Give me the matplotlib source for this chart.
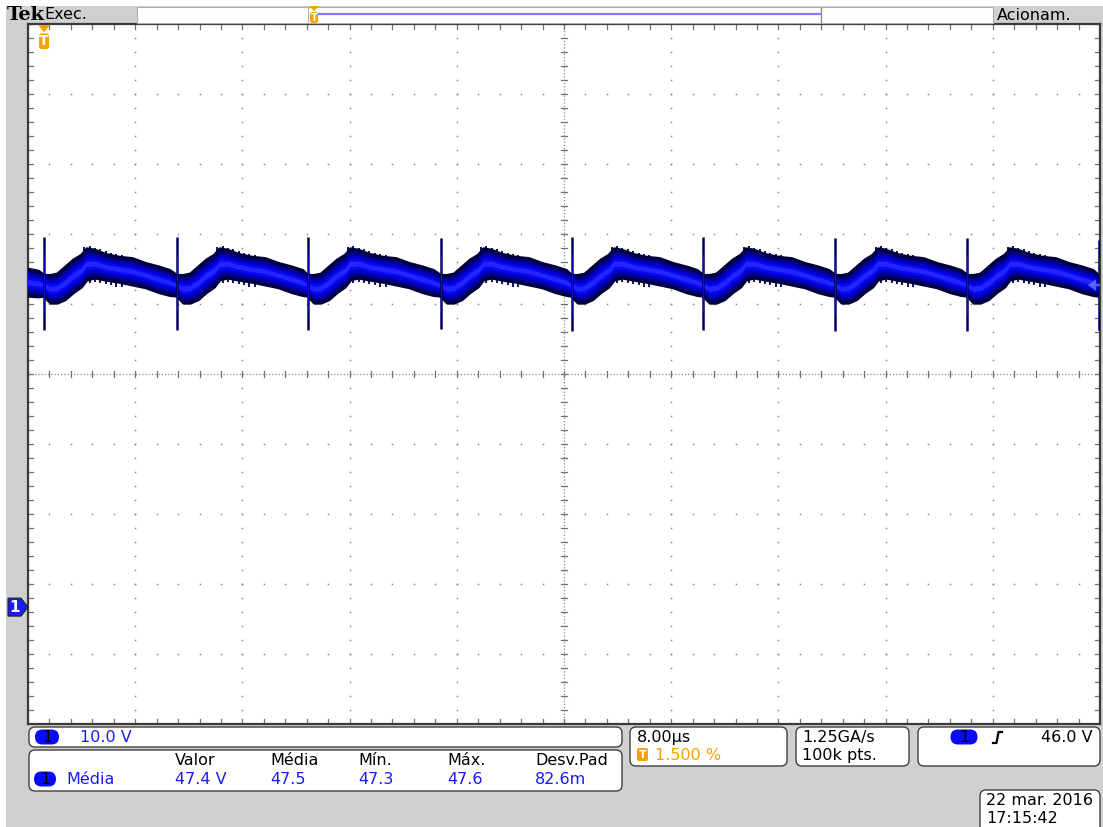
import numpy as np
import matplotlib
matplotlib.use("Agg")
import matplotlib.pyplot as plt
from matplotlib.patches import FancyBboxPatch, Polygon, Rectangle

# ---------------- data ----------------
time_per_div_us = 8.0
volts_per_div = 10.0
trigger_pos_pct = 1.5
trigger_level_v = 46.0
ground_offset_div = -3.33

# switching events (spike instants, us relative to trigger) and spike extremes (V)
spike_t = [0.0, 9.92, 19.68, 29.6, 39.36, 49.2, 59.05, 68.9, 78.7]
spike_hi = [52.9, 52.9, 52.9, 52.8, 52.9, 52.9, 52.8, 52.8, 52.4]
spike_lo = [39.6, 39.6, 39.6, 39.7, 39.4, 39.6, 39.4, 39.4, 39.6]

# band envelope over one switching period
# (time after the spike in us, upper edge V, lower edge V)
period_off = [0.0, 0.5, 1.0, 1.6, 2.2, 2.8, 3.2, 3.8, 4.6, 5.6, 6.6, 7.6, 8.6, 9.4]
period_hi = [47.4, 47.4, 47.6, 48.6, 49.6, 50.3, 51.2, 51.0, 50.4, 50.0, 49.8, 49.1, 48.6, 48.1]
period_lo = [44.4, 43.4, 43.4, 43.9, 44.9, 45.7, 46.7, 47.0, 46.7, 46.4, 46.0, 45.6, 44.9, 44.5]
# trace before the first spike (left of trigger)
lead_t = [-1.2, -0.4]
lead_hi = [48.3, 48.0]
lead_lo = [44.4, 44.3]
# ringing teeth after each turn-on (offset us, lowest V, highest V)
ring_off = [3.0, 3.4, 3.8, 4.2, 4.6, 5.0, 5.4, 5.8]
ring_lo = [46.1, 46.3, 46.4, 46.3, 46.1, 46.0, 45.8, 45.8]
ring_hi = [51.4, 51.6, 51.3, 51.1, 50.9, 50.6, 50.4, 50.3]

scale_label = "10.0 V"
meas_name = "Média"
meas_headers = ["Valor", "Média", "Mín.", "Máx.", "Desv.Pad"]
meas_values = ["47.4 V", "47.5", "47.3", "47.6", "82.6m"]
horiz_label = "8.00µs"
trig_pos_label = "1.500 %"
rate_label = ["1.25GA/s", "100k pts."]
trig_label = "46.0 V"
date_label = ["22 mar. 2016", "17:15:42"]

# ---------------- figure ----------------
W, H = 1103, 827
fig = plt.figure(figsize=(W / 100, H / 100), dpi=100)
fig.patch.set_facecolor("white")
plt.rcParams["font.family"] = ["DejaVu Sans"]

GRAY = "#d0d0d0"
BLUE_TXT = "#1a1aff"
ORANGE = "#f5a200"

bg = fig.add_axes([0, 0, 1, 1], zorder=0)
bg.set_xlim(0, W)
bg.set_ylim(H, 0)
bg.axis("off")
bg.add_patch(Rectangle((6, 6), W, H, facecolor=GRAY, edgecolor="none"))

# plot area in pixels
L, R, T, B = 28, 1100, 24, 724
t0 = -trigger_pos_pct / 100 * 10 * time_per_div_us
t1 = t0 + 10 * time_per_div_us
vc = -ground_offset_div * volts_per_div
v0, v1 = vc - 5 * volts_per_div, vc + 5 * volts_per_div

ax = fig.add_axes([L / W, 1 - B / H, (R - L) / W, (B - T) / H], zorder=1)
ax.set_xlim(t0, t1)
ax.set_ylim(v0, v1)
ax.set_facecolor("white")
ax.set_xticks([])
ax.set_yticks([])
for s in ax.spines.values():
    s.set_color("#3a3a3a")
    s.set_linewidth(1.6)

dxp = (t1 - t0) / (R - L)   # us per pixel
dyp = (v1 - v0) / (B - T)   # V per pixel
tc = (t0 + t1) / 2
gcol = "#8a8a8a"

# graticule dots
minor_x = np.arange(t0, t1 + 1e-6, time_per_div_us / 5)
minor_y = np.arange(v0, v1 + 1e-6, volts_per_div / 5)
for k in range(1, 10):
    xg = t0 + k * time_per_div_us
    yg = v0 + k * volts_per_div
    if k != 5:
        ax.plot(np.full_like(minor_y, xg), minor_y, ls="none", marker="s",
                ms=1.1, color=gcol, mew=0)
        ax.plot(minor_x, np.full_like(minor_x, yg), ls="none", marker="s",
                ms=1.1, color=gcol, mew=0)
# centre cross
ax.axhline(vc, color=gcol, lw=0.9, ls=(0, (1, 1.6)))
ax.axvline(tc, color=gcol, lw=0.9, ls=(0, (1, 1.6)))
for x in minor_x:
    ax.plot([x, x], [vc - 3 * dyp, vc + 3 * dyp], color="#707070", lw=0.9)
    ax.plot([x, x], [v1, v1 - 5 * dyp], color="#707070", lw=0.9)
    ax.plot([x, x], [v0, v0 + 5 * dyp], color="#707070", lw=0.9)
for y in minor_y:
    ax.plot([tc - 3 * dxp, tc + 3 * dxp], [y, y], color="#707070", lw=0.9)
    ax.plot([t0, t0 + 5 * dxp], [y, y], color="#707070", lw=0.9)
    ax.plot([t1, t1 - 5 * dxp], [y, y], color="#707070", lw=0.9)

# assemble the band from the measured period profile at each spike instant
et = list(lead_t)
hi = list(lead_hi)
lo = list(lead_lo)
for st in spike_t:
    for o, h_, l_ in zip(period_off, period_hi, period_lo):
        et.append(st + o)
        hi.append(h_)
        lo.append(l_)
et = np.array(et)
hi = np.array(hi)
lo = np.array(lo)
mid = (hi + lo) / 2
half = (hi - lo) / 2

# ringing teeth (dark, under the graded band)
for st in spike_t:
    rt = np.array(ring_off) + st
    ax.vlines(rt, ring_lo, ring_hi, color="#00004a", lw=1.3, zorder=2.9)

layers = [(1.0, "#000050"), (0.8, "#000090"), (0.6, "#0000c8"), (0.38, "#0808f0"), (0.18, "#2424ff")]
for frac, col in layers:
    ax.fill_between(et, mid - half * frac, mid + half * frac, color=col, lw=0, zorder=3)
ax.plot(et, hi, color="#00003c", lw=2.0, zorder=3.1, solid_joinstyle="round")
ax.plot(et, lo, color="#00003c", lw=2.0, zorder=3.1, solid_joinstyle="round")
# spikes
ax.vlines(spike_t, spike_lo, spike_hi, color="#000060", lw=1.8, zorder=4)
ax.vlines(spike_t, np.array(spike_lo) + 2.5, np.array(spike_hi) - 2.5, color="#1010c0", lw=0.7, zorder=5)

# ---------------- overlay (markers & status bars) ----------------
ov = fig.add_axes([0, 0, 1, 1], zorder=2)
ov.set_xlim(0, W)
ov.set_ylim(H, 0)
ov.axis("off")
ov.patch.set_alpha(0)


def vpx(v):
    return T + (v1 - v) / (v1 - v0) * (B - T)


def tpx(t):
    return L + (t - t0) / (t1 - t0) * (R - L)


# top bar
ov.text(7, 15.5, "Tek", fontsize=14, fontweight="bold", family="DejaVu Serif",
        va="center", ha="left", color="black")
ov.text(44, 14.5, "Exec.", fontsize=11.5, va="center", ha="left", color="black")
ov.add_patch(Rectangle((137, 7), 856, 16, facecolor="white", edgecolor="#b0b0b0", lw=0.8))
ov.plot([316, 820], [14, 14], color="#7b7bff", lw=1.6)
ov.plot([821, 821], [8, 22], color="#909090", lw=1.0)
ov.plot([308, 308], [8, 22], color="#b0b0b0", lw=0.8)
ov.text(997, 15, "Acionam.", fontsize=11.5, va="center", ha="left", color="black")


def t_marker(xc, ytop, w, h):
    ov.add_patch(Polygon([[xc - w / 2, ytop], [xc + w / 2, ytop], [xc, ytop + h * 0.3]],
                         closed=True, facecolor=ORANGE, edgecolor="none"))
    ov.add_patch(FancyBboxPatch((xc - w / 2 + 1, ytop + h * 0.35), w - 2, h * 0.65,
                                boxstyle="round,pad=0,rounding_size=2.5",
                                facecolor=ORANGE, edgecolor="none"))
    ov.text(xc, ytop + h * 0.68, "T", color="white", fontsize=h * 0.42,
            fontweight="bold", ha="center", va="center")


t_marker(314, 6, 10, 17)
t_marker(tpx(0.0), T + 1, 12, 24)

# ground marker for channel 1
gy = vpx(0.0)
ov.add_patch(Polygon([[8, gy - 9], [21, gy - 9], [28, gy], [21, gy + 9], [8, gy + 9]],
                     closed=True, facecolor="#1a1aff", edgecolor="#202020", lw=0.8))
ov.text(15, gy + 0.5, "1", color="white", fontsize=11, fontweight="bold",
        ha="center", va="center")

# trigger level arrow (right edge)
ty = vpx(trigger_level_v)
ov.add_patch(Polygon([[R - 12, ty], [R - 4, ty - 6], [R - 4, ty + 6]], closed=True,
                     facecolor="#6a6aff", edgecolor="none", alpha=0.8))
ov.plot([R - 10, R - 1], [ty, ty], color="#6a6aff", lw=1.6, alpha=0.8)


def box(x0, y0, x1, y1):
    ov.add_patch(FancyBboxPatch((x0, y0), x1 - x0, y1 - y0,
                                boxstyle="round,pad=0,rounding_size=6",
                                facecolor="white", edgecolor="#404040", lw=1.0))


def badge(xc, yc, w=24, h=15):
    ov.add_patch(FancyBboxPatch((xc - w / 2, yc - h / 2), w, h,
                                boxstyle=f"round,pad=0,rounding_size={h/2}",
                                facecolor="#0a0aff", edgecolor="none"))
    ov.text(xc, yc + 0.5, "1", color="black", fontsize=11.5, ha="center", va="center")


FS = 11.5
# channel scale box
box(29, 727, 622, 747)
badge(47, 737)
ov.text(80, 737.5, scale_label, color=BLUE_TXT, fontsize=FS, ha="left", va="center")

# measurement box
box(29, 750, 622, 791)
hx = [175, 270, 358, 447, 535]
for x, h_, v_ in zip(hx, meas_headers, meas_values):
    ov.text(x, 760.5, h_, color="black", fontsize=FS, ha="left", va="center")
    ov.text(x, 779.5, v_, color=BLUE_TXT, fontsize=FS, ha="left", va="center")
badge(45, 779, w=22)
ov.text(66, 779.5, meas_name, color=BLUE_TXT, fontsize=FS, ha="left", va="center")

# horizontal box
box(630, 727, 787, 766)
ov.text(637, 737.5, horiz_label, color="black", fontsize=FS, ha="left", va="center")
ov.add_patch(FancyBboxPatch((637, 748), 11, 13, boxstyle="round,pad=0,rounding_size=2",
                            facecolor=ORANGE, edgecolor="none"))
ov.text(642.5, 755, "T", color="white", fontsize=8, fontweight="bold", ha="center", va="center")
ov.text(655, 755.5, trig_pos_label, color=ORANGE, fontsize=FS, ha="left", va="center")

# acquisition box
box(796, 727, 909, 766)
ov.text(802, 737.5, rate_label[0], color="black", fontsize=FS, ha="left", va="center")
ov.text(802, 755.5, rate_label[1], color="black", fontsize=FS, ha="left", va="center")

# trigger box
box(918, 727, 1100, 766)
badge(964, 737, w=27)
ov.plot([993, 996.5, 998.5, 1002], [743, 743, 732, 732], color="black", lw=1.6)
ov.text(1093, 737.5, trig_label, color="black", fontsize=FS, ha="right", va="center")

# date box
box(980, 790, 1100, 835)
ov.text(986, 800.5, date_label[0], color="black", fontsize=FS, ha="left", va="center")
ov.text(986, 818.5, date_label[1], color="black", fontsize=FS, ha="left", va="center")

fig.savefig("out.png", dpi=100, facecolor=fig.get_facecolor())
